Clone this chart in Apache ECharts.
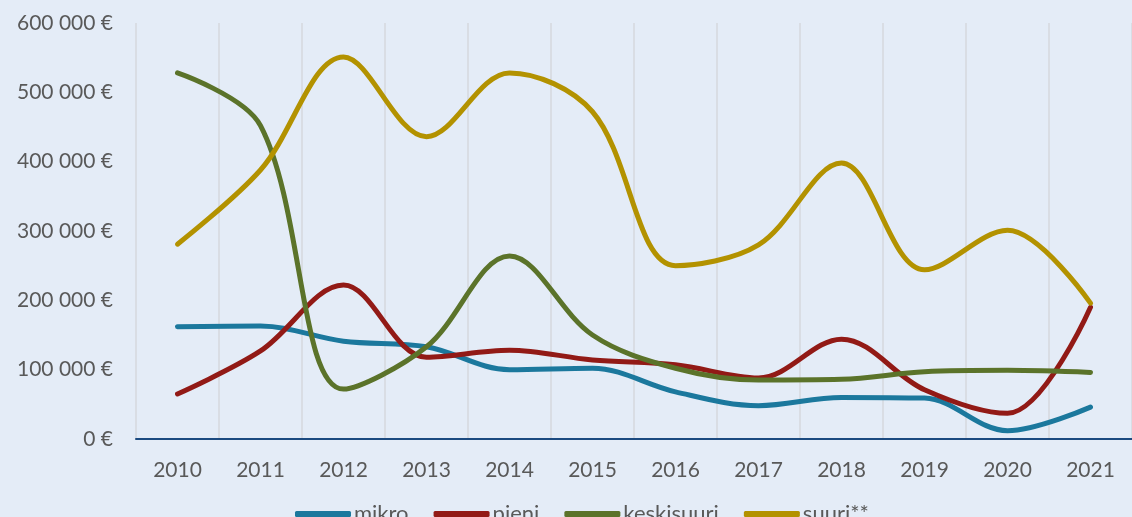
<!DOCTYPE html>
<html lang="fi">
<head>
    <meta charset="UTF-8">
    <title>Yritykset</title>
    <script type="text/javascript" src="https://cdn.jsdelivr.net/npm/echarts@6/dist/echarts.min.js"></script>
    <style>
        body{
            padding: 0px;
            margin: 0px;
            background-color: #E4ECF7;
        }
        #chart{
            width: 1132px;
            height: 517px;
        }
    </style>
</head>
<body>
    <div id="chart"></div>
    <script>
    var years = ['2010', '2011', '2012', '2013', '2014', '2015', '2016', '2017', '2018', '2019', '2020', '2021'];
    var mikro = [162000, 163000, 141000, 133000, 100000, 102000, 68000, 48000, 60000, 59000, 12000, 46000];
    var pieni = [65000, 127000, 222000, 118000, 128000, 114000, 107000, 88000, 144000, 71000, 37000, 190000];
    var keskisuuri = [528000, 452000, 72000, 133000, 264000, 150000, 102000, 85000, 86000, 97000, 99000, 96000];
    var suuri = [281000, 388000, 551000, 436000, 528000, 472000, 250000, 280000, 398000, 244000, 301000, 196000];

    var textColor = '#595959';
    var font = 'Lato';

    function euro(v) {
        return String(v).replace(/\B(?=(\d{3})+(?!\d))/g, ' ') + ' €';
    }

    function line(name, data, color) {
        return {
            name: name,
            type: 'line',
            data: data,
            smooth: 0.35,
            symbol: 'none',
            lineStyle: {width: 5, color: color, cap: 'round', join: 'round'},
            itemStyle: {color: color}
        };
    }

    var chart = echarts.init(document.getElementById('chart'), null, {renderer: 'canvas'});
    chart.setOption({
        backgroundColor: '#E4ECF7',
        animation: false,
        grid: {left: 136, right: -10, top: 23, bottom: 78},
        legend: {
            left: 290,
            top: 498,
            icon: 'roundRect',
            itemWidth: 56,
            itemHeight: 6,
            itemGap: 25,
            textStyle: {color: textColor, fontFamily: font, fontSize: 22, padding: [0, 0, 0, -2]},
            data: ['mikro', 'pieni', 'keskisuuri', 'suuri**']
        },
        xAxis: {
            type: 'category',
            data: years,
            boundaryGap: true,
            axisLine: {lineStyle: {color: '#1B4A80', width: 2}},
            axisTick: {show: false},
            axisLabel: {color: textColor, fontFamily: font, fontSize: 21, margin: 21},
            splitLine: {show: true, lineStyle: {color: '#D6D9DE', width: 1.5}}
        },
        yAxis: {
            type: 'value',
            min: 0,
            max: 600000,
            interval: 100000,
            axisLine: {show: false},
            axisTick: {show: false},
            splitLine: {show: false},
            axisLabel: {color: textColor, fontFamily: font, fontSize: 21, margin: 23, formatter: euro}
        },
        series: [
            line('mikro', mikro, '#1B789D'),
            line('pieni', pieni, '#921A16'),
            line('keskisuuri', keskisuuri, '#5B732A'),
            line('suuri**', suuri, '#B39200')
        ]
    });
    </script>
</body>
</html>
